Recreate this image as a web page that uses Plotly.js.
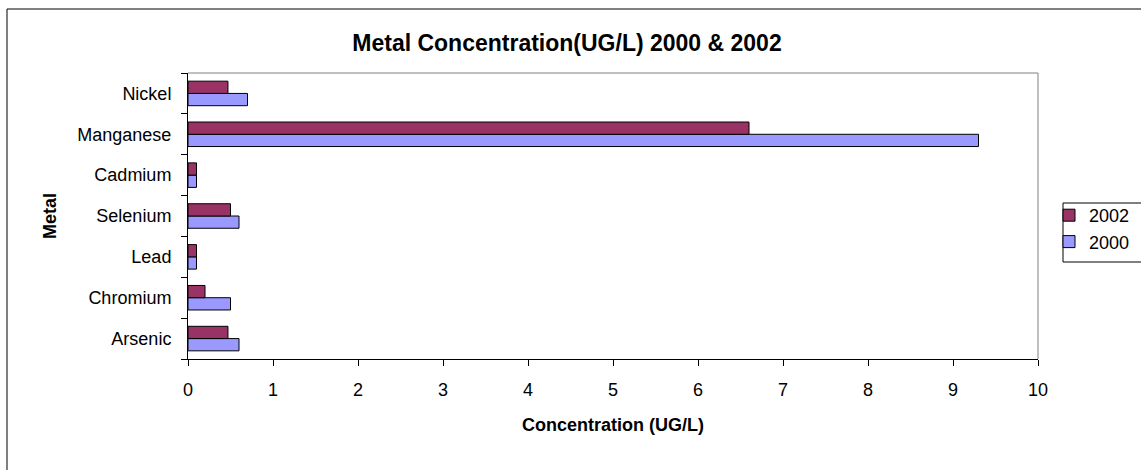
<!DOCTYPE html>
<html>
<head>
<meta charset="utf-8">
<script src="https://cdn.plot.ly/plotly-3.0.1.min.js"></script>
<style>
html,body{margin:0;padding:0;background:#fff;}
#chart{width:1141px;height:470px;}
</style>
</head>
<body>
<div id="chart"></div>
<script>
// Categories, bottom to top
const metals = ['Arsenic', 'Chromium', 'Lead', 'Selenium', 'Cadmium', 'Manganese', 'Nickel'];
const values2000 = [0.6, 0.5, 0.1, 0.6, 0.1, 9.3, 0.7];
const values2002 = [0.47, 0.2, 0.1, 0.5, 0.1, 6.6, 0.47];
const seriesNames = ['2000', '2002'];
const xTickVals = [0, 1, 2, 3, 4, 5, 6, 7, 8, 9, 10];

const FONT = 'Liberation Sans, Arial, sans-serif';

const traces = [
  {
    type: 'bar', orientation: 'h', name: seriesNames[0],
    y: metals, x: values2000,
    marker: {color: '#9999FF', line: {color: '#000000', width: 1}},
    hoverinfo: 'x+y'
  },
  {
    type: 'bar', orientation: 'h', name: seriesNames[1],
    y: metals, x: values2002,
    marker: {color: '#993366', line: {color: '#000000', width: 1}},
    hoverinfo: 'x+y'
  }
];

// plot area pixel box: x 188..1038, y 73..359
const L = 188, R = 1038, T = 73, B = 359, W = 1141, H = 470;
const px = p => (p - L) / (R - L);
const py = p => (B - p) / (B - T);

const layout = {
  width: W, height: H,
  margin: {l: L, r: W - R, t: T, b: H - B, pad: 0, autoexpand: false},
  paper_bgcolor: '#ffffff',
  plot_bgcolor: '#ffffff',
  font: {family: FONT, size: 18, color: '#000000'},
  title: {
    text: '<b>Metal Concentration(UG/L) 2000 &amp; 2002</b>',
    font: {family: FONT, size: 23, color: '#000'},
    x: 567 / W, xanchor: 'center', xref: 'container',
    y: 1 - 43 / H, yanchor: 'middle', yref: 'container'
  },
  barmode: 'group',
  bargap: 0.4,
  bargroupgap: 0,
  xaxis: {
    range: [0, 10], tickvals: xTickVals, ticktext: xTickVals.map(String),
    showgrid: false, zeroline: false,
    showline: true, linecolor: '#000', linewidth: 1,
    ticks: 'outside', ticklen: 6, tickcolor: '#000',
    ticklabelstandoff: 8,
    tickfont: {family: FONT, size: 18},
    title: {text: '<b>Concentration (UG/L)</b>', font: {family: FONT, size: 18}, standoff: 19}
  },
  yaxis: {
    type: 'category', categoryorder: 'array', categoryarray: metals,
    showgrid: false, zeroline: false,
    showline: true, linecolor: '#000', linewidth: 1,
    ticks: 'outside', ticklen: 6, tickcolor: '#000', tickson: 'boundaries',
    ticklabelstandoff: 12,
    tickfont: {family: FONT, size: 18},
    title: {text: '<b>Metal</b>', font: {family: FONT, size: 18}, standoff: 16}
  },
  showlegend: true,
  legend: {
    traceorder: 'reversed',
    xref: 'container', yref: 'container',
    x: 1049 / W, xanchor: 'left',
    y: 1 - 197 / H, yanchor: 'top',
    bgcolor: 'rgba(0,0,0,0)', borderwidth: 0,
    font: {family: FONT, size: 18},
    itemwidth: 30
  },
  shapes: [
    // legend box
    {type: 'rect', xref: 'paper', yref: 'paper', layer: 'below',
     x0: px(1063), x1: px(1150), y0: py(203), y1: py(262),
     line: {color: '#000', width: 1}, fillcolor: '#ffffff'},
    // plot area gray top/right border
    {type: 'line', xref: 'paper', yref: 'paper', x0: 0, x1: 1, y0: 1, y1: 1, line: {color: '#808080', width: 1}},
    {type: 'line', xref: 'paper', yref: 'paper', x0: 1, x1: 1, y0: 0, y1: 1, line: {color: '#808080', width: 1}},
    // outer chart border (top and left visible)
    {type: 'line', xref: 'paper', yref: 'paper', x0: px(7), x1: px(1145), y0: py(9), y1: py(9), line: {color: '#000', width: 1}},
    {type: 'line', xref: 'paper', yref: 'paper', x0: px(7), x1: px(7), y0: py(9), y1: py(475), line: {color: '#000', width: 1}}
  ]
};

Plotly.newPlot('chart', traces, layout, {displayModeBar: false, staticPlot: true});
</script>
</body>
</html>
